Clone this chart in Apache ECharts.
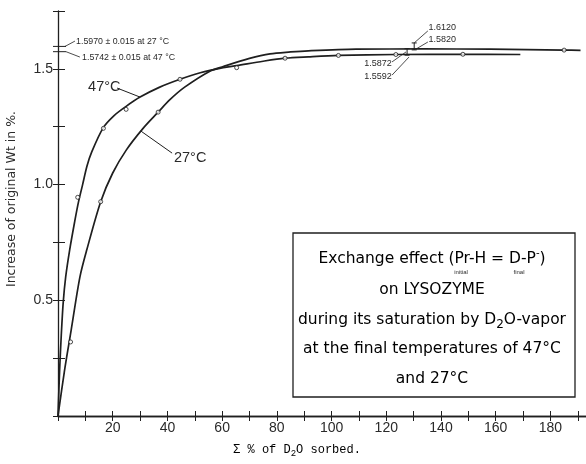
<!DOCTYPE html>
<html>
<head>
<meta charset="utf-8">
<script src="https://cdn.jsdelivr.net/npm/echarts@6/dist/echarts.min.js"></script>
<style>
  html, body { margin: 0; padding: 0; background: #fff; }
  #chart { width: 586px; height: 464px; }
</style>
</head>
<body>
<div id="chart"></div>
<script>
// Weight increase (%) versus total D2O sorbed (%), lysozyme exchange runs.

// Smooth fitted curve, 47 °C run
const curve47 = [
  [0, 0], [0.6, 0.20], [1.2, 0.35], [1.9, 0.49], [2.8, 0.60], [4.3, 0.72],
  [6.1, 0.84], [7.4, 0.92], [9.0, 1.0], [10.6, 1.08], [12.3, 1.14], [16.5, 1.245],
  [20.5, 1.298], [24.9, 1.338], [30.0, 1.378], [37, 1.42], [44.6, 1.455],
  [52, 1.483], [60.4, 1.505], [65.3, 1.514], [75, 1.533], [83, 1.546],
  [91.5, 1.552], [102.5, 1.558], [123.5, 1.562], [148, 1.563], [169, 1.562]
];
// Smooth fitted curve, 27 °C run
const curve27 = [
  [0, 0], [2.3, 0.19], [4.8, 0.37], [8.0, 0.60], [10.5, 0.717], [15.6, 0.926],
  [20, 1.05], [25, 1.15], [31.1, 1.243], [36.6, 1.313], [41, 1.368],
  [46.3, 1.421], [55.5, 1.49], [60.4, 1.51], [70, 1.545], [77.5, 1.565],
  [85, 1.573], [91.5, 1.578], [109, 1.585], [133.5, 1.586], [158, 1.585],
  [185, 1.581], [191, 1.580]
];
// Measured points
const points47 = [
  [7.2, 0.945], [16.6, 1.243], [24.9, 1.325], [44.6, 1.455], [65.3, 1.505],
  [83, 1.546], [102.5, 1.558], [123.5, 1.562], [148, 1.563]
];
const points27 = [
  [4.6, 0.32], [15.6, 0.926], [36.6, 1.313], [185, 1.581]
];
// Final values with their spread: [x, low, high]
const spread27 = [130.2, 1.5820, 1.6120];
const spread47 = [127.6, 1.5592, 1.5872];
const final27 = 1.5970;
const final47 = 1.5742;

// Axis ticks
const xLabelValues = [20, 40, 60, 80, 100, 120, 140, 160, 180];
const yLabelValues = [0.5, 1.0, 1.5];

const FONT = 'Liberation Sans';
const BOXFONT = 'DejaVu Sans';
const INK = '#1f1f1f';
const TXT = '#2a2a2a';

const chart = echarts.init(document.getElementById('chart'), null, { renderer: 'canvas' });

const baseX = {
  type: 'value', min: 0, max: 193, interval: 10,
  splitLine: { show: false },
  axisLine: { show: true, lineStyle: { color: INK, width: 1.3 } },
  axisTick: { show: true, inside: true, length: 5, lineStyle: { color: INK, width: 1 } }
};

chart.setOption({
  animation: false,
  backgroundColor: '#ffffff',
  grid: { left: 58, top: 11, width: 528, height: 405 },
  xAxis: [
    Object.assign({}, baseX, {
      position: 'bottom',
      axisLabel: {
        margin: 5, fontSize: 14, color: TXT, fontFamily: FONT,
        showMaxLabel: false,
        formatter: v => xLabelValues.includes(v) ? String(v) : ''
      }
    }),
    Object.assign({}, baseX, { position: 'top', axisLabel: { show: false } })
  ],
  yAxis: [
    {
      type: 'value', min: 0, max: 1.75, interval: 0.25, position: 'left',
      splitLine: { show: false },
      axisLine: { show: true, lineStyle: { color: INK, width: 1.3 } },
      axisTick: { show: true, inside: true, length: 7, lineStyle: { color: INK, width: 1 } },
      axisLabel: {
        margin: 5, fontSize: 14, color: TXT, fontFamily: FONT,
        formatter: v => yLabelValues.some(t => Math.abs(t - v) < 1e-9) ? v.toFixed(1) : ''
      }
    },
    {
      type: 'value', min: 0, max: 1.75, interval: 0.25, position: 'right',
      splitLine: { show: false },
      axisLine: { show: false },
      axisTick: { show: true, inside: true, length: 5, lineStyle: { color: INK, width: 1 } },
      axisLabel: { show: false }
    }
  ],
  series: [
    {
      name: '47 °C', type: 'line', data: curve47, smooth: 0.3,
      showSymbol: false, lineStyle: { color: INK, width: 1.7 }
    },
    {
      name: '27 °C', type: 'line', data: curve27, smooth: 0.3,
      showSymbol: false, lineStyle: { color: INK, width: 1.7 }
    },
    {
      name: '47 °C points', type: 'scatter', data: points47, symbol: 'circle', symbolSize: 4,
      itemStyle: { color: '#fff', borderColor: INK, borderWidth: 1 }, z: 3
    },
    {
      name: '27 °C points', type: 'scatter', data: points27, symbol: 'circle', symbolSize: 4,
      itemStyle: { color: '#fff', borderColor: INK, borderWidth: 1 }, z: 3
    },
    {
      name: 'spread', type: 'custom', data: [spread27, spread47], z: 4,
      renderItem: (params, api) => {
        const lo = api.coord([api.value(0), api.value(1)]);
        const hi = api.coord([api.value(0), api.value(2)]);
        const cap = 2.5;
        return {
          type: 'group',
          children: [
            { type: 'line', shape: { x1: lo[0], y1: lo[1], x2: hi[0], y2: hi[1] }, style: { stroke: INK, lineWidth: 1 } },
            { type: 'line', shape: { x1: lo[0] - cap, y1: lo[1], x2: lo[0] + cap, y2: lo[1] }, style: { stroke: INK, lineWidth: 1 } },
            { type: 'line', shape: { x1: hi[0] - cap, y1: hi[1], x2: hi[0] + cap, y2: hi[1] }, style: { stroke: INK, lineWidth: 1 } }
          ]
        };
      }
    }
  ]
});

// Annotations placed through the grid's own coordinate conversion
const P = (x, y) => chart.convertToPixel({ gridIndex: 0 }, [x, y]);
const seg = (a, b, w) => ({
  type: 'line', silent: true, z: 10,
  shape: { x1: a[0], y1: a[1], x2: b[0], y2: b[1] },
  style: { stroke: INK, lineWidth: w || 1 }
});
const txt = (p, text, size, align, family) => ({
  type: 'text', silent: true, z: 10, x: p[0], y: p[1],
  style: {
    text: text, fill: TXT, font: size + 'px "' + (family || FONT) + '"',
    textAlign: align || 'left', textVerticalAlign: 'middle'
  }
});

const g = [];
// final-value marks on the y axis
const m27 = P(0, final27), m47 = P(0, final47);
g.push(seg([m27[0] - 5, m27[1]], [m27[0] + 8, m27[1]], 1));
g.push(seg([m47[0] - 5, m47[1]], [m47[0] + 8, m47[1]], 1));
g.push(seg([m27[0] + 7, m27[1]], P(6.2, 1.620), 0.8));
g.push(seg([m47[0] + 8, m47[1]], P(8.0, 1.551), 0.8));
g.push(txt(P(6.6, 1.620), '1.5970 ± 0.015 at 27 °C', 8.8));
g.push(txt(P(8.8, 1.547), '1.5742 ± 0.015 at 47 °C', 8.8));

// spread labels
g.push(seg(P(135.2, 1.664), P(spread27[0], spread27[2]), 0.8));
g.push(seg(P(135.2, 1.616), P(130.8, 1.585), 0.8));
g.push(seg(P(122.1, 1.530), P(127.2, 1.573), 0.8));
g.push(seg(P(122.1, 1.473), P(128.3, 1.551), 0.8));
g.push(txt(P(135.4, 1.677), '1.6120', 9));
g.push(txt(P(135.4, 1.625), '1.5820', 9));
g.push(txt(P(122.0, 1.521), '1.5872', 9, 'right'));
g.push(txt(P(122.0, 1.465), '1.5592', 9, 'right'));

// curve labels
g.push(txt(P(11.0, 1.422), '47°C', 14.5));
g.push(seg(P(21.6, 1.417), P(30.0, 1.378), 1));
g.push(txt(P(42.4, 1.115), '27°C', 14.5));
g.push(seg(P(30.2, 1.232), P(41.7, 1.136), 1));

// description panel
const bx = 293, by = 233, bw = 282, bh = 164, cx = 432;
g.push({ type: 'rect', silent: true, z: 9, shape: { x: bx, y: by, width: bw, height: bh },
         style: { fill: '#fff', stroke: INK, lineWidth: 1.3 } });
const rich = {
  n: { fontSize: 15.5, fontFamily: BOXFONT, color: TXT, lineHeight: 22, verticalAlign: 'middle' },
  s: { fontSize: 12, fontFamily: BOXFONT, color: TXT, lineHeight: 12, verticalAlign: 'bottom' },
  u: { fontSize: 10, fontFamily: BOXFONT, color: TXT, lineHeight: 10, verticalAlign: 'top' }
};
const line = (y, text) => ({
  type: 'text', silent: true, z: 11, x: cx, y: y,
  style: { text: text, rich: rich, textAlign: 'center', textVerticalAlign: 'middle' }
});
g.push(line(259, '{n|Exchange effect (Pr-H = D-P}{u|-}{n|)}'));
g.push(txt([461, 272], 'initial', 6, 'center'));
g.push(txt([519, 272], 'final', 6, 'center'));
g.push(line(290, '{n|on LYSOZYME}'));
g.push(line(320, '{n|during its saturation by D}{s|2}{n|O-vapor}'));
g.push(line(349, '{n|at the final temperatures of 47°C}'));
g.push(line(379, '{n|and 27°C}'));

// axis titles
g.push({ type: 'text', silent: true, x: 12, y: 199, rotation: Math.PI / 2,
         style: { text: 'Increase of original Wt in %.', fill: TXT, font: '12.5px "' + BOXFONT + '"',
                  textAlign: 'center', textVerticalAlign: 'middle' } });
g.push({ type: 'text', silent: true, x: 297, y: 450,
         style: { text: '{n|Σ % of D}{s|2}{n|O sorbed.}', textAlign: 'center', textVerticalAlign: 'middle',
                  rich: {
                    n: { fontSize: 12, fontFamily: 'Liberation Mono', color: TXT, lineHeight: 16, verticalAlign: 'middle' },
                    s: { fontSize: 9, fontFamily: 'Liberation Mono', color: TXT, lineHeight: 9, verticalAlign: 'bottom' }
                  } } });

chart.setOption({ graphic: { elements: g } });
</script>
</body>
</html>
